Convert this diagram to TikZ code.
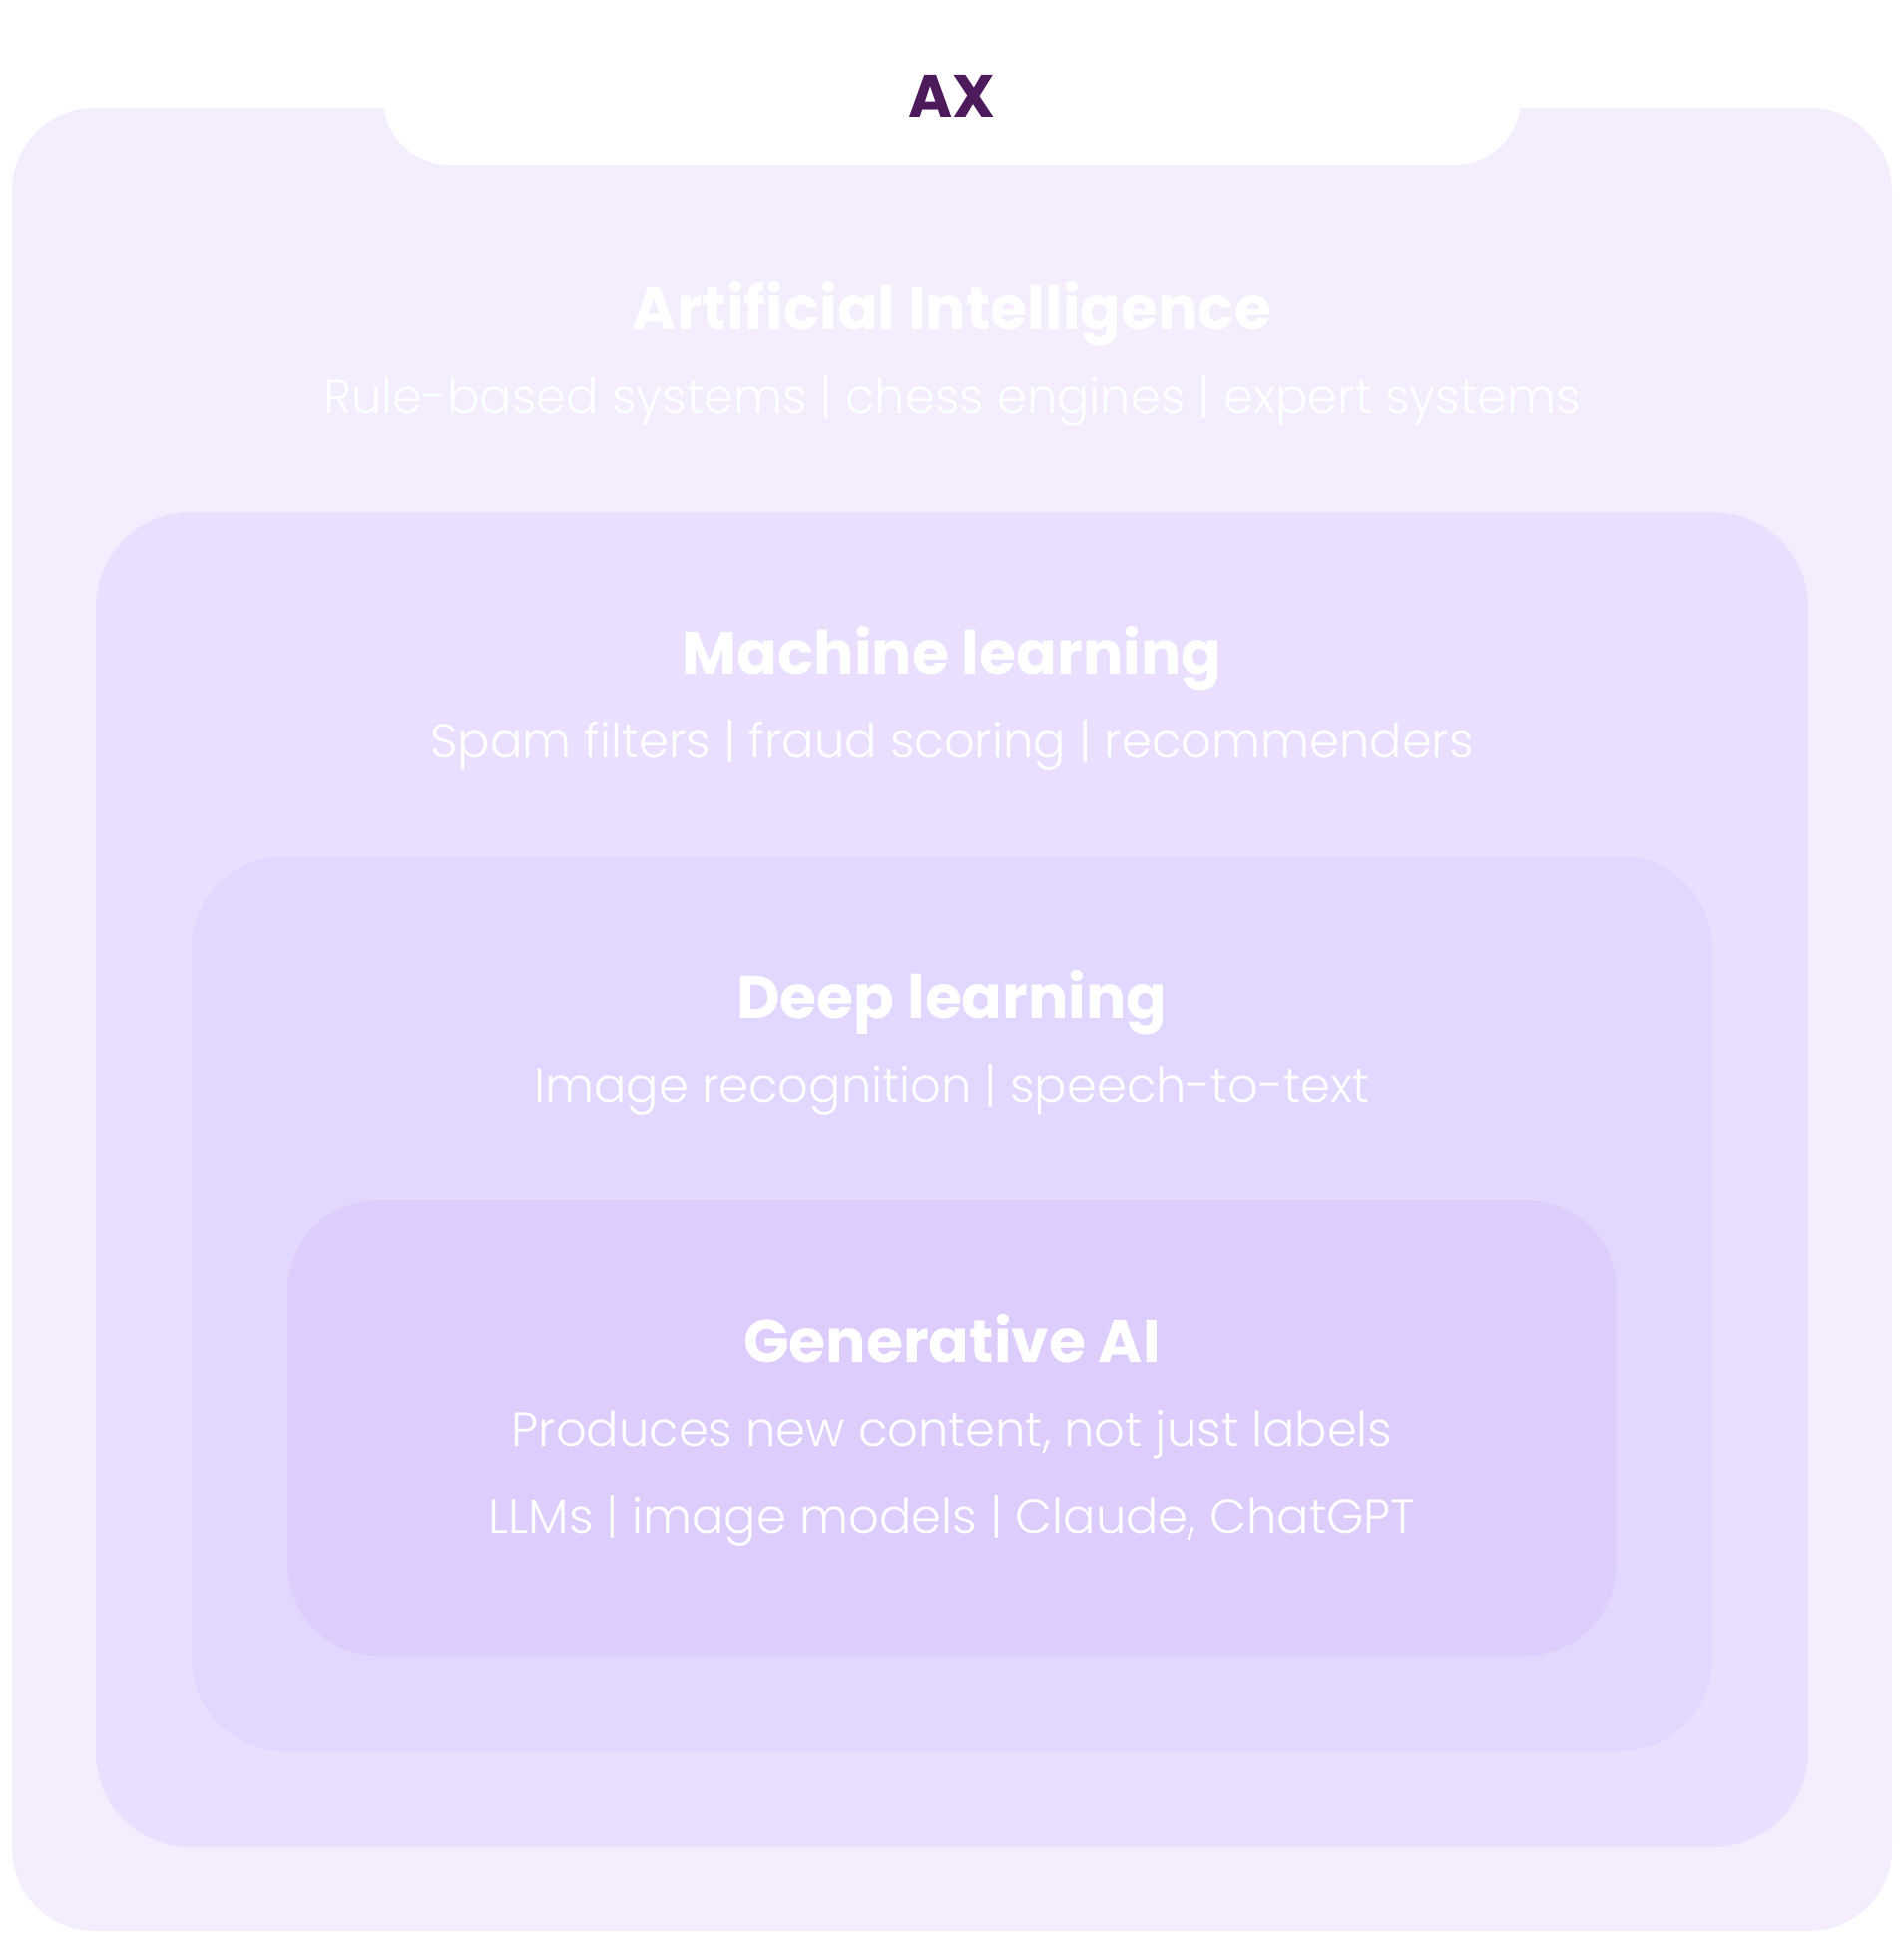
\documentclass[tikz,border=0pt]{standalone}
\usepackage{fontspec}
\newfontfamily\pbold{Poppins Bold}
\newfontfamily\plight{Poppins Light}
\definecolor{lvA}{HTML}{F3EDFD}
\definecolor{lvB}{HTML}{EADFFE}
\definecolor{lvC}{HTML}{E2D7FE}
\definecolor{lvD}{HTML}{DDCDFD}
\definecolor{axpurple}{HTML}{4D1A5C}
\begin{document}
\begin{tikzpicture}[x=1pt,y=-1pt,
  layerbox/.style={fill=#1, draw=none},
  titletext/.style={anchor=base, text=white, font=\pbold\fontsize{60}{72}\selectfont, inner sep=0pt},
  subtext/.style={anchor=base, text=white, font=\plight\fontsize{48}{58}\selectfont, inner sep=0pt}]
\useasboundingbox (0,0) rectangle (1908,1947);
\fill[white] (0,0) rectangle (1908,1947);
% outer AI box
\fill[layerbox=lvA, rounded corners=83pt] (12,108) rectangle (1896,1935);
% notch
\fill[white, rounded corners=66pt] (384,-40) rectangle (1524,165);
% nested boxes
\fill[layerbox=lvB, rounded corners=95pt] (96,513) rectangle (1812,1851);
\fill[layerbox=lvC, rounded corners=93pt] (192,858) rectangle (1716,1755);
\fill[layerbox=lvD, rounded corners=92pt] (288,1202) rectangle (1620,1659);
% texts
\node[anchor=base, text=axpurple, font=\pbold\fontsize{60}{72}\selectfont, inner sep=0pt] (ax) at (954,117) {AX};
\node[titletext] (aiT) at (954,330) {Artificial Intelligence};
\node[subtext] (aiS) at (954,414) {Rule-based systems | chess engines | expert systems};
\node[titletext] (mlT) at (954,675) {Machine learning};
\node[subtext] (mlS) at (954,759) {Spam filters | fraud scoring | recommenders};
\node[titletext] (dlT) at (954,1020) {Deep learning};
\node[subtext] (dlS) at (954,1104) {Image recognition | speech-to-text};
\node[titletext] (gaT) at (954,1365) {Generative AI};
\node[subtext] (gaS1) at (954,1449) {Produces new content, not just labels};
\node[subtext] (gaS2) at (954,1536) {LLMs | image models | Claude, ChatGPT};
\end{tikzpicture}
\end{document}
